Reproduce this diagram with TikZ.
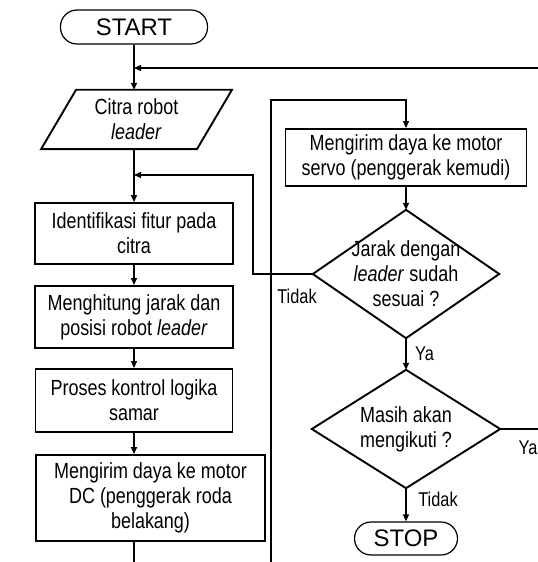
\documentclass[tikz,border=0pt]{standalone}
\usepackage{fontspec}
\setmainfont{Liberation Sans}[FakeStretch=0.82]
\newfontfamily\termfont{Liberation Sans}
\usetikzlibrary{arrows.meta}
\begin{document}
\begin{tikzpicture}[x=1bp,y=-1bp,
  boxtxt/.style={font=\fontsize{22}{25}\selectfont, align=center},
  procbox/.style={boxtxt, draw, line width=1.9bp, inner sep=0pt},
  shapenode/.style={boxtxt, inner sep=0pt},
  outline/.style={line width=1.9bp, line join=miter},
  termbox/.style={draw, line width=1.2bp, rounded corners=16.5bp, inner sep=0pt, font=\termfont\fontsize{24}{26}\selectfont},
  conn/.style={line width=1.4bp},
  arr/.style={conn, -{Triangle[length=7bp,width=6bp]}},
  lbl/.style={font=\fontsize{20}{22}\selectfont, inner sep=0pt}]
\useasboundingbox (0,0) rectangle (538,562);
\clip (0,0) rectangle (538,562);
\fill[white] (0,0) rectangle (538,562);

% left column
\node[termbox, minimum width=147bp, minimum height=34bp] (start) at (134,27) {START};
\node[shapenode, minimum width=155.5bp, minimum height=59bp] (input) at (136.5,119.5) {Citra robot\\\textit{leader}};
\draw[outline] ([xshift=17.5bp]input.north west) -- ([xshift=17.5bp]input.north east)
  -- ([xshift=-17.5bp]input.south east) -- ([xshift=-17.5bp]input.south west) -- cycle;
\node[procbox, minimum width=198bp, minimum height=61bp] (b1) at (134,233.5) {Identifikasi fitur pada\\citra};
\node[procbox, minimum width=198bp, minimum height=62bp] (b2) at (134,317) {Menghitung jarak dan\\posisi robot \textit{leader}};
\node[procbox, minimum width=197bp, minimum height=63bp] (b3) at (134,400.5) {Proses kontrol logika\\samar};
\node[procbox, minimum width=229bp, minimum height=86bp] (b4) at (150.5,498) {Mengirim daya ke motor\\DC (penggerak roda\\belakang)};

% right column
\node[procbox, minimum width=241bp, minimum height=57bp] (servo) at (406,157.5) {Mengirim daya ke motor\\servo (penggerak kemudi)};
\node[shapenode, minimum width=186bp, minimum height=128bp] (d1) at (406,274) {Jarak dengan\\\textit{leader} sudah\\sesuai ?};
\draw[outline] (d1.north) -- (d1.east) -- (d1.south) -- (d1.west) -- cycle;
\node[shapenode, minimum width=188bp, minimum height=118bp] (d2) at (406,429) {Masih akan\\mengikuti ?};
\draw[outline] (d2.north) -- (d2.east) -- (d2.south) -- (d2.west) -- cycle;
\node[termbox, minimum width=103bp, minimum height=33bp] (stop) at (406,538.5) {STOP};

% labels
\node[lbl] (t1) at (297,296) {Tidak};
\node[lbl] (y1) at (424.5,354) {Ya};
\node[lbl] (y2) at (528,448) {Ya};
\node[lbl] (t2) at (438,499) {Tidak};

% coordinates
\coordinate (j1) at (134,68);
\coordinate (j2) at (134,175);
\coordinate (lp) at (253,274);
\coordinate (rr) at (560,429);
\coordinate (bl) at (134,590);
\coordinate (br) at (271,590);
\coordinate (tl) at (271,100);

% connectors
\draw[arr] (start.south) -- (start.south |- input.north);
\draw[arr] (input.south -| b1.north) -- (b1.north);
\draw[arr] (b1.south) -- (b2.north);
\draw[arr] (b2.south) -- (b3.north);
\draw[arr] (b3.south) -- (b3.south |- b4.north);
\draw[arr] (b4.south -| b3.south) -- (bl) -- (br) -- (tl) -| (servo.north);
\draw[arr] (servo.south) -- (d1.north);
\draw[arr] (d1.south) -- (d2.north);
\draw[arr] (d2.south) -- (stop.north);
\draw[arr] (d1.west) -- (lp) |- (j2);
\draw[arr] (d2.east) -- (rr) |- (j1);
\end{tikzpicture}
\end{document}
